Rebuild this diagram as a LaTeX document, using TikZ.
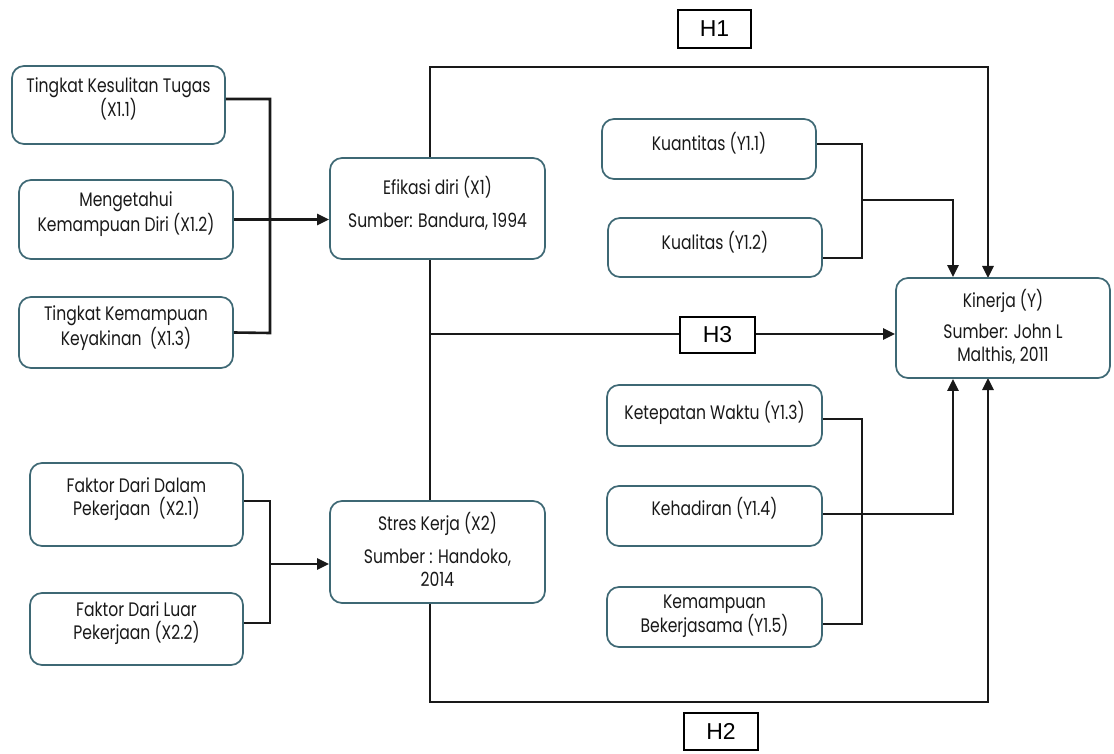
\documentclass[tikz,border=0pt]{standalone}
\usepackage{fontspec}
\setmainfont{Poppins}[FakeStretch=0.8]
\newfontfamily\hfont{Liberation Sans}
\usetikzlibrary{arrows.meta}
\definecolor{bordc}{RGB}{62,104,116}
\definecolor{txtc}{RGB}{25,25,25}
\tikzset{
  box/.style={draw=bordc, line width=1.7pt, rounded corners=12pt, fill=white, inner sep=0pt},
  txt/.style={align=center, text=txtc, font=\fontsize{19.5}{23}\selectfont, inner sep=0pt},
  hbox/.style={draw=black, line width=2.2pt, inner sep=0pt, font=\hfont\fontsize{23}{26}\selectfont},
  conn/.style={draw=black!90, line width=2.6pt},
  arr/.style={conn, -{Triangle[length=12pt,width=11pt]}}
}
\begin{document}
\begin{tikzpicture}[x=1pt,y=-1pt]
\useasboundingbox (0,0) rectangle (1114,754);
% frame coordinates
\coordinate (tl) at (430,67);
\coordinate (tr) at (988,67);
\coordinate (bl) at (430,702);
\coordinate (br) at (988,702);
\coordinate (h3l) at (430,334);
\coordinate (jx1) at (270,99);
\coordinate (jx1b) at (270,333);
\coordinate (jx2) at (270,501);
\coordinate (jx2b) at (270,623);
\coordinate (ax2) at (270,564);
\coordinate (jyt) at (862,200);
\coordinate (ayt) at (953,200);
\coordinate (ayb) at (953,514);

% frame lines (behind boxes)
\draw[conn] (430,158) -- (430,501);
\draw[arr] (430,158) -- (tl) -- (tr) -- (988,278);
\draw[arr] (430,603) -- (bl) -- (br) -- (988,378);

% boxes
\node[box, minimum width=213pt, minimum height=78pt] (x11) at (118.5,105) {};
\node[txt] (x11t) at (118.5,99) {Tingkat Kesulitan Tugas\\(X1.1)};
\node[box, minimum width=214pt, minimum height=79pt] (x12) at (126,219.5) {};
\node[txt] (x12t) at (126,214) {Mengetahui\\Kemampuan Diri (X1.2)};
\node[box, minimum width=214pt, minimum height=71pt] (x13) at (126,332.5) {};
\node[txt] (x13t) at (126,328) {Tingkat Kemampuan\\Keyakinan\ \ (X1.3)};

\node[box, minimum width=215pt, minimum height=101pt] (ef) at (437.5,208.5) {};
\node[txt] (eft) at (437.5,203.5) {Efikasi diri (X1)\\[10pt]Sumber: Bandura, 1994};

\node[box, minimum width=213pt, minimum height=83pt] (x21) at (136.5,504.5) {};
\node[txt] (x21t) at (136.5,499) {Faktor Dari Dalam\\Pekerjaan\ \ (X2.1)};
\node[box, minimum width=213pt, minimum height=72pt] (x22) at (136.5,629) {};
\node[txt] (x22t) at (136.5,623) {Faktor Dari Luar\\Pekerjaan (X2.2)};

\node[box, minimum width=215pt, minimum height=102pt] (st) at (437.5,552) {};
\node[txt] (stt) at (437.5,549) {Stres Kerja (X2)\\[10pt]Sumber : Handoko,\\2014};

\node[box, minimum width=214pt, minimum height=60pt] (y1) at (709,149) {};
\node[txt] (y1t) at (709,143) {Kuantitas (Y1.1)};
\node[box, minimum width=214pt, minimum height=59pt] (y2) at (715,247.5) {};
\node[txt] (y2t) at (715,242) {Kualitas (Y1.2)};

\node[box, minimum width=214pt, minimum height=100pt] (ky) at (1003,328) {};
\node[txt] (kyt) at (1003,326.5) {Kinerja (Y)\\[8pt]Sumber: John L\\Malthis, 2011};

\node[box, minimum width=215pt, minimum height=61pt] (y3) at (714.5,415.5) {};
\node[txt] (y3t) at (714.5,413) {Ketepatan Waktu (Y1.3)};
\node[box, minimum width=215pt, minimum height=60pt] (y4) at (714.5,516) {};
\node[txt] (y4t) at (714.5,508) {Kehadiran (Y1.4)};
\node[box, minimum width=215pt, minimum height=60pt] (y5) at (714.5,617) {};
\node[txt] (y5t) at (714.5,616) {Kemampuan\\Bekerjasama (Y1.5)};

\node[hbox, minimum width=73pt, minimum height=38pt] (h1) at (714.5,29) {H1};
\node[hbox, minimum width=75pt, minimum height=36pt] (h3) at (717.5,335) {H3};
\node[hbox, minimum width=74pt, minimum height=37pt] (h2) at (721,731.5) {H2};

% left connectors
\draw[conn] ([yshift=6pt]x11.east) -- (jx1) -- (jx1b) -- (x13.east);
\draw[arr] (x12.east) -- (x12.east -| ef.west);
\draw[conn] ([yshift=3.5pt]x21.east) -- (jx2) -- (jx2b) -- ([yshift=6pt]x22.east);
\draw[arr] (ax2) -- (ax2 -| st.west);

% H3
\draw[conn] (h3l) -- (h3l -| h3.west);
\draw[arr] (h3l -| h3.east) -- (h3l -| ky.west);

% right connectors
\draw[conn] ([yshift=5pt]y1.east) -- (862,144) -- (862,258) -- ([yshift=-10.5pt]y2.east);
\draw[arr] (jyt) -- (ayt) -- (ayt |- ky.north);
\draw[conn] ([yshift=-3.5pt]y3.east) -- (862,419) -- (862,624) -- ([yshift=-7pt]y5.east);
\draw[arr] ([yshift=2pt]y4.east) -- (ayb) -- (ayb |- ky.south);
\end{tikzpicture}
\end{document}
